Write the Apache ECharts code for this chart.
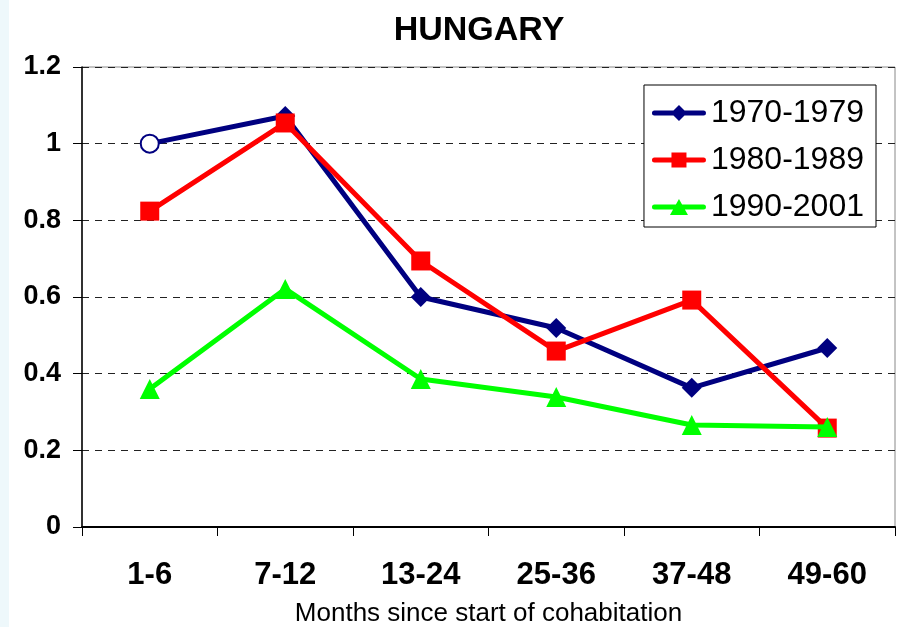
<!DOCTYPE html>
<html>
<head>
    <meta charset="utf-8" />
    <style type="text/css">
        body, html {
            margin: 0;
            padding: 0;
            width: 100%;
            height: 100%;
            overflow: hidden;
            background: #ffffff;
        }
        #strip {
            position: absolute;
            left: 0;
            top: 0;
            width: 9px;
            height: 627px;
            background: #eef8fb;
        }
        #main {
            position: absolute;
            left: 0;
            top: 0;
            width: 899px;
            height: 627px;
        }
    </style>
    <script type="text/javascript" src="https://cdn.jsdelivr.net/npm/echarts@6/dist/echarts.min.js"></script>
    <title>HUNGARY</title>
</head>
<body>
    <div id="strip"></div>
    <div id="main"></div>
</body>
</html>
<script type="text/javascript">
    // categories and values
    var months = ['1-6', '7-12', '13-24', '25-36', '37-48', '49-60'];
    var names = ['1970-1979', '1980-1989', '1990-2001'];
    var s1970 = [1.0, 1.072, 0.60, 0.519, 0.363, 0.467];
    var s1980 = [0.824, 1.054, 0.694, 0.459, 0.592, 0.258];
    var s1990 = [0.360, 0.621, 0.386, 0.339, 0.266, 0.261];

    var myChart = echarts.init(document.getElementById('main'));

    // first point of the 70s is drawn as a hollow circle
    var first70 = s1970.map(function (v, i) {
        if (i == 0) {
            return {
                value: v,
                symbol: 'circle',
                symbolSize: 18,
                itemStyle: { color: '#ffffff', borderColor: '#000080', borderWidth: 2 }
            };
        }
        return v;
    });

    // legend icons: thick line with the marker in the middle
    var bar = 'M2.5 5.5 L51.5 5.5 A2.5 2.5 0 0 1 51.5 10.5 L2.5 10.5 A2.5 2.5 0 0 1 2.5 5.5 Z ';
    var iconDiamond = 'path://' + bar + 'M27 0 L35 8 L27 16 L19 8 Z';
    var iconRect = 'path://' + bar + 'M19.5 0.5 L34.5 0.5 L34.5 15.5 L19.5 15.5 Z';
    var iconTri = 'path://' + bar + 'M27 0 L36 16 L18 16 Z';

    var font = 'Liberation Sans, Arial, sans-serif';

    var option = {
        animation: false,
        title: {
            text: 'HUNGARY',
            left: 474,
            textAlign: 'center',
            top: 9,
            textStyle: { fontFamily: font, fontSize: 34, fontWeight: 'bold', color: '#000' }
        },
        legend: {
            orient: 'vertical',
            right: 23,
            top: 85,
            width: 239,
            padding: [12, 12, 4, 8],
            itemGap: 15,
            itemWidth: 54,
            itemHeight: 16,
            borderColor: '#000',
            borderWidth: 1,
            backgroundColor: '#fff',
            data: [
                { name: names[0], icon: iconDiamond },
                { name: names[1], icon: iconRect },
                { name: names[2], icon: iconTri }
            ],
            textStyle: { fontFamily: font, fontSize: 32, color: '#000' }
        },
        grid: {
            left: 82,
            right: 4,
            top: 67,
            bottom: 100,
            show: true,
            borderColor: '#888',
            borderWidth: 1,
            containLabel: false,
            outerBoundsMode: 'none'
        },
        xAxis: {
            type: 'category',
            data: months,
            boundaryGap: true,
            name: 'Months since start of cohabitation',
            nameLocation: 'middle',
            nameGap: 74,
            nameTextStyle: { fontFamily: font, fontSize: 26, color: '#000' },
            axisLine: { lineStyle: { color: '#000', width: 2 } },
            axisTick: { show: true, length: 9, lineStyle: { color: '#000' } },
            axisLabel: { fontFamily: font, fontSize: 31, fontWeight: 'bold', color: '#000', margin: 33 }
        },
        yAxis: {
            type: 'value',
            min: 0,
            max: 1.2,
            interval: 0.2,
            axisLine: { show: true, lineStyle: { color: '#000', width: 1.5 } },
            axisTick: { show: true, length: 9, lineStyle: { color: '#000' } },
            axisLabel: { fontFamily: font, fontSize: 27, fontWeight: 'bold', color: '#000', margin: 21 },
            splitLine: { lineStyle: { color: '#222', type: [7, 6], width: 1 } }
        },
        series: [{
            name: names[0],
            type: 'line',
            data: first70,
            symbol: 'diamond',
            symbolSize: 20,
            color: '#000080',
            lineStyle: { width: 5, color: '#000080' },
            itemStyle: { color: '#000080' },
            z: 3
        }, {
            name: names[1],
            type: 'line',
            data: s1980,
            symbol: 'rect',
            symbolSize: 19,
            color: '#ff0000',
            lineStyle: { width: 5, color: '#ff0000' },
            itemStyle: { color: '#ff0000' },
            z: 4
        }, {
            name: names[2],
            type: 'line',
            data: s1990,
            symbol: 'triangle',
            symbolSize: 20,
            color: '#00ff00',
            lineStyle: { width: 5, color: '#00ff00' },
            itemStyle: { color: '#00ff00' },
            z: 5
        }]
    };

    myChart.setOption(option);
</script>
